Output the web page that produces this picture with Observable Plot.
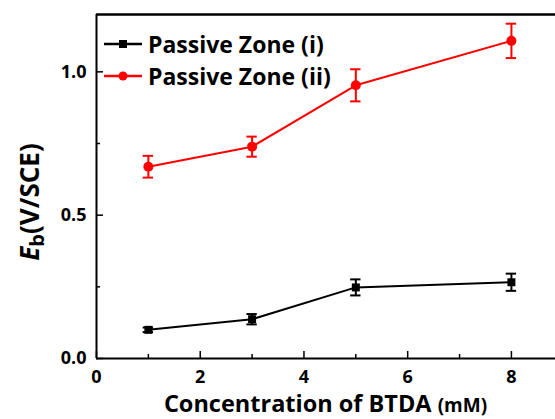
<!DOCTYPE html>
<html>
<head>
<meta charset="utf-8">
<script src="https://cdn.jsdelivr.net/npm/d3@7"></script>
<script src="https://cdn.jsdelivr.net/npm/@observablehq/plot@0.6"></script>
<style>
  html, body { margin: 0; padding: 0; background: #fff; }
  #wrap { position: relative; width: 555px; height: 419px; overflow: hidden; font-family: "Open Sans", sans-serif; }
  #legend { position: absolute; left: 104px; top: 28px; font-weight: bold; font-size: 23px; color: #000; }
  #legend .row { display: flex; align-items: center; height: 32px; }
  #legend svg { margin-right: 6px; }
  #xlabel { position: absolute; left: 96px; width: 459px; top: 387px; text-align: center; font-weight: bold; font-size: 23.5px; }
  #xlabel small { font-size: 19px; }
  #ylabel { position: absolute; left: 30px; top: 202px; transform: translate(-50%, -50%) rotate(-90deg); white-space: nowrap; font-weight: bold; font-size: 26px; }
  #ylabel sub { font-size: 20px; vertical-align: -5px; }
</style>
</head>
<body>
<div id="wrap">
  <div id="chart"></div>
  <div id="legend"></div>
  <div id="xlabel">Concentration of BTDA <small>(mM)</small></div>
  <div id="ylabel"><i>E</i><sub>b</sub>(V/SCE)</div>
</div>
<script>
const conc = [1, 3, 5, 8];
const zoneI = [0.10, 0.137, 0.248, 0.266];
const errI = [0.008, 0.018, 0.028, 0.03];
const zoneII = [0.669, 0.739, 0.953, 1.108];
const errII = [0.038, 0.035, 0.056, 0.06];
const seriesNames = ["Passive Zone (i)", "Passive Zone (ii)"];
const seriesColors = ["#000000", "#ff0000"];
const xMajor = [0, 2, 4, 6, 8];
const xMinor = [1, 3, 5, 7];
const yMajor = [0, 0.5, 1.0];
const yMinor = [0.25, 0.75];

const rows = [];
conc.forEach((c, i) => {
  rows.push({s: seriesNames[0], x: c, y: zoneI[i], e: errI[i]});
  rows.push({s: seriesNames[1], x: c, y: zoneII[i], e: errII[i]});
});
const capHalf = 0.1;
const fmt = d3.format(".1f");

const plot = Plot.plot({
  width: 555,
  height: 419,
  marginLeft: 96,
  marginRight: 0,
  marginTop: 14,
  marginBottom: 61,
  style: {fontFamily: "Open Sans, sans-serif", fontWeight: "bold", fontSize: "17px", color: "#000", background: "#fff"},
  x: {domain: [0, 8.85]},
  y: {domain: [0, 1.2]},
  color: {domain: seriesNames, range: seriesColors},
  marks: [
    Plot.axisX({ticks: xMajor, tickSize: -7, tickFormat: () => "", strokeWidth: 1.5, label: null}),
    Plot.axisX({ticks: xMinor, tickSize: -4, tickFormat: () => "", strokeWidth: 1.5, label: null}),
    Plot.axisX({ticks: xMajor, tickSize: 0, tickPadding: 12, label: null, fontSize: 18}),
    Plot.axisY({ticks: yMajor, tickSize: -7, tickFormat: () => "", strokeWidth: 1.5, label: null}),
    Plot.axisY({ticks: yMinor, tickSize: -4, tickFormat: () => "", strokeWidth: 1.5, label: null}),
    Plot.axisY({ticks: yMajor, tickSize: 0, tickPadding: 10, tickFormat: fmt, label: null, fontSize: 18}),
    Plot.ruleY([0], {strokeWidth: 2}),
    Plot.ruleY([1.2], {strokeWidth: 2.5}),
    Plot.ruleX([0], {strokeWidth: 2}),
    Plot.line(rows, {x: "x", y: "y", z: "s", stroke: "s", strokeWidth: 2}),
    Plot.ruleX(rows, {x: "x", y1: d => d.y - d.e, y2: d => d.y + d.e, stroke: "s", strokeWidth: 2}),
    Plot.ruleY(rows, {y: d => d.y - d.e, x1: d => d.x - capHalf, x2: d => d.x + capHalf, stroke: "s", strokeWidth: 2}),
    Plot.ruleY(rows, {y: d => d.y + d.e, x1: d => d.x - capHalf, x2: d => d.x + capHalf, stroke: "s", strokeWidth: 2}),
    Plot.dot(rows.filter(d => d.s === seriesNames[0]), {x: "x", y: "y", symbol: "square", r: 4.5, fill: "#000", stroke: "none"}),
    Plot.dot(rows.filter(d => d.s === seriesNames[1]), {x: "x", y: "y", symbol: "circle", r: 5, fill: "#ff0000", stroke: "none"})
  ]
});
document.getElementById("chart").appendChild(plot);

const legend = document.getElementById("legend");
seriesNames.forEach((name, i) => {
  const row = document.createElement("div");
  row.className = "row";
  const sym = i === 0
    ? `<rect x="15" y="6" width="8" height="8" fill="${seriesColors[i]}"/>`
    : `<circle cx="19" cy="10" r="4.5" fill="${seriesColors[i]}"/>`;
  row.innerHTML = `<svg width="38" height="20"><line x1="0" x2="38" y1="10" y2="10" stroke="${seriesColors[i]}" stroke-width="2.5"/>${sym}</svg><span>${name}</span>`;
  legend.appendChild(row);
});
</script>
</body>
</html>
